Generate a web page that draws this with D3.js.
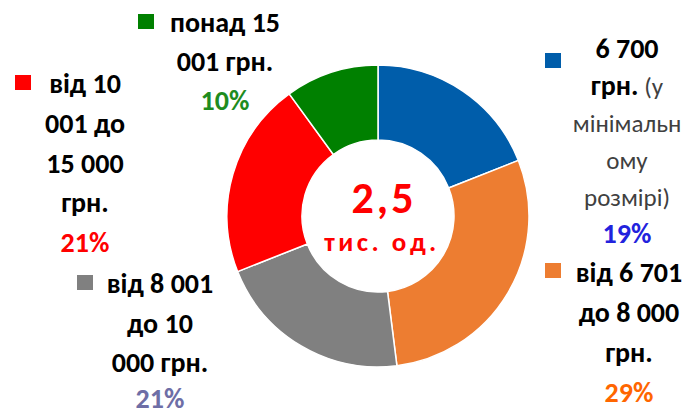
<!DOCTYPE html>
<html>
<head>
<meta charset="utf-8">
<script src="https://cdn.jsdelivr.net/npm/d3@7"></script>
<style>
  body { margin: 0; background: #fff; }
  text { font-family: Carlito, Lato, "Open Sans", sans-serif; }
</style>
</head>
<body>
<div id="donut"></div>
<script>
// data
var categories = ["6 700 грн. (у мінімальному розмірі)", "від 6 701 до 8 000 грн.",
                  "від 8 001 до 10 000 грн.", "від 10 001 до 15 000 грн.", "понад 15 001 грн."];
var values = [19, 29, 21, 21, 10];
var sliceColors = ["#005DAA", "#ED7D31", "#808080", "#FF0000", "#008000"];
var pctColors = ["#2222DD", "#FF6600", "#6E6EA6", "#FF0000", "#1E8C1E"];
var centerLines = ["2,5", "тис. од."];

// label lines as they wrap in the picture, [text, bold]
var labelLines = [
  [[["6 700", true]], [["грн.", true], [" (у", false]], [["мінімальн", false]], [["ому", false]], [["розмірі)", false]]],
  [[["від 6 701", true]], [["до 8 000", true]], [["грн.", true]]],
  [[["від 8 001", true]], [["до 10", true]], [["000 грн.", true]]],
  [[["від 10", true]], [["001 до", true]], [["15 000", true]], [["грн.", true]]],
  [[["понад 15", true]], [["001 грн.", true]]]
];

// label layout: centre x, first baseline, line step, key square x/y
var labelPos = [
  {cx: 627, y: 58, step: 37, kx: 545, ky: 53},
  {cx: 629, y: 282, step: 40, kx: 545, ky: 263},
  {cx: 160, y: 293, step: 39.5, kx: 77, ky: 275},
  {cx: 85, y: 93, step: 39.8, kx: 15, ky: 75},
  {cx: 225, y: 32, step: 39, kx: 138, ky: 14}
];

var width = 686, height = 414;
var cx = 378, cy = 216, outer = 151, inner = 76;

var svg = d3.select("#donut")
  .append("svg")
    .attr("width", width)
    .attr("height", height);

var pie = d3.pie().sort(null).value(function(d) { return d; });
var arc = d3.arc().innerRadius(inner).outerRadius(outer);

var g = svg.append("g")
  .attr("transform", "translate(" + cx + "," + cy + ")");

g.selectAll("path")
  .data(pie(values))
  .enter()
  .append("path")
    .attr("d", arc)
    .attr("fill", function(d, i) { return sliceColors[i]; })
    .attr("stroke", "#fff")
    .attr("stroke-width", 1.5);

// centre text
g.append("text")
  .attr("text-anchor", "middle")
  .attr("x", 6)
  .attr("y", -3)
  .attr("fill", "#FF0000")
  .style("font-weight", "bold")
  .style("font-size", "44px")
  .style("letter-spacing", "3px")
  .text(centerLines[0]);
g.append("text")
  .attr("text-anchor", "middle")
  .attr("x", 4)
  .attr("y", 35)
  .attr("fill", "#FF0000")
  .style("font-weight", "bold")
  .style("font-size", "27px")
  .style("letter-spacing", "3.5px")
  .text(centerLines[1]);

// labels
categories.forEach(function(cat, i) {
  var p = labelPos[i];
  var lines = labelLines[i];
  var lg = svg.append("g").attr("class", "label");

  lg.append("rect")
    .attr("x", p.kx)
    .attr("y", p.ky)
    .attr("width", 16)
    .attr("height", 15)
    .attr("fill", sliceColors[i]);

  lines.forEach(function(parts, j) {
    var t = lg.append("text")
      .attr("x", p.cx)
      .attr("y", p.y + j * p.step)
      .attr("text-anchor", "middle")
      .attr("fill", "#000");
    parts.forEach(function(part) {
      t.append("tspan")
        .style("font-weight", part[1] ? "bold" : "normal")
        .style("font-size", part[1] ? "28px" : "25px")
        .attr("fill", part[1] ? "#000" : "#404040")
        .text(part[0]);
    });
  });

  lg.append("text")
    .attr("x", p.cx)
    .attr("y", Math.min(p.y + lines.length * p.step, 408))
    .attr("text-anchor", "middle")
    .style("font-size", "28px")
    .style("font-weight", "bold")
    .attr("fill", pctColors[i])
    .text(values[i] + "%");
});
</script>
</body>
</html>
